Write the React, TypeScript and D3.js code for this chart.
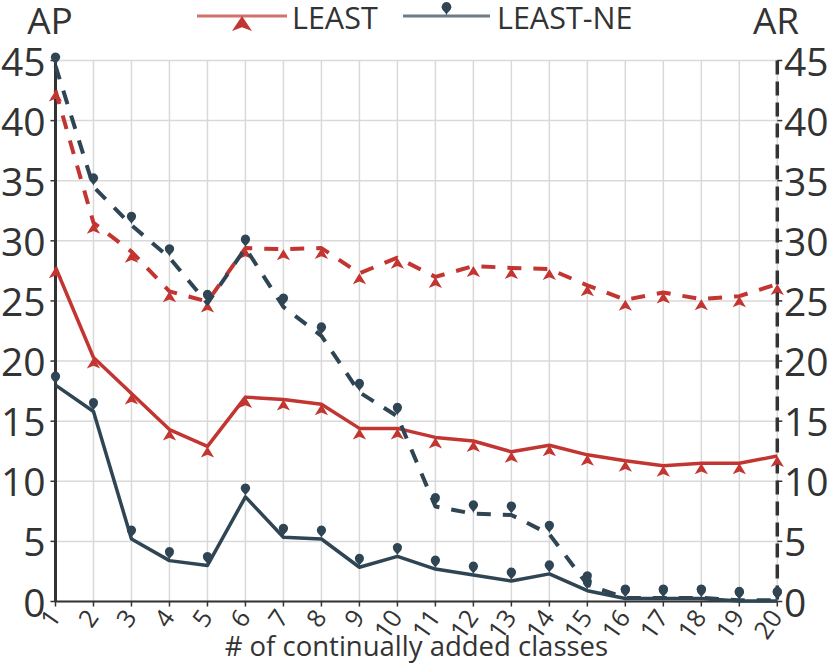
import React from 'react';
import * as d3 from 'd3';

// ---- data ----
const categories = ['1', '2', '3', '4', '5', '6', '7', '8', '9', '10', '11', '12', '13', '14', '15', '16', '17', '18', '19', '20'];
const leastAP = [27.8, 20.3, 17.3, 14.3, 12.9, 17.0, 16.8, 16.4, 14.4, 14.4, 13.65, 13.35, 12.45, 13.0, 12.2, 11.7, 11.3, 11.5, 11.5, 12.1];
const leastAR = [42.5, 31.5, 29.1, 25.8, 24.95, 29.4, 29.3, 29.4, 27.3, 28.6, 27.0, 27.9, 27.75, 27.65, 26.3, 25.1, 25.7, 25.15, 25.4, 26.4];
const leastNeAP = [18.0, 15.8, 5.2, 3.4, 3.0, 8.7, 5.35, 5.2, 2.85, 3.75, 2.7, 2.2, 1.7, 2.3, 0.9, 0.25, 0.25, 0.25, 0.05, 0.05];
const leastNeAR = [44.55, 34.5, 31.3, 28.6, 24.8, 29.4, 24.5, 22.1, 17.4, 15.4, 7.9, 7.3, 7.2, 5.6, 1.4, 0.3, 0.3, 0.3, 0.1, 0.1];
const yTicks = [0, 5, 10, 15, 20, 25, 30, 35, 40, 45];
const seriesNames = ['LEAST', 'LEAST-NE'];
const seriesColors = ['#c23531', '#2f4554'];
const leftAxisName = 'AP';
const rightAxisName = 'AR';
const xAxisName = '# of continually added classes';

const W = 830;
const H = 666;
const FONT = "'Open Sans', 'Noto Sans', sans-serif";
const TEXT = '#333';

const x = d3.scalePoint<string>().domain(categories).range([55.5, 777.3]);
const y = d3.scaleLinear().domain([0, 45]).range([601.5, 60.5]);

function arrowPath(w: number, h: number): string {
  const dx = (w / 3) * 2;
  const p = d3.path();
  p.moveTo(0, 0);
  p.lineTo(dx, h);
  p.lineTo(0, (h / 4) * 3);
  p.lineTo(-dx, h);
  p.closePath();
  return p.toString();
}

function pinPath(w0: number, h0: number): string {
  const w = (w0 / 5) * 3;
  const h = Math.max(w, h0);
  const r = w / 2;
  const dy = (r * r) / (h - r);
  const cy = -h + r + dy;
  const angle = Math.asin(dy / r);
  const dx = Math.cos(angle) * r;
  const tanX = Math.sin(angle);
  const tanY = Math.cos(angle);
  const cpLen = r * 0.6;
  const cpLen2 = r * 0.7;
  const p = d3.path();
  p.moveTo(-dx, cy + dy);
  p.arc(0, cy, r, Math.PI - angle, Math.PI * 2 + angle);
  p.bezierCurveTo(dx - tanX * cpLen, cy + dy + tanY * cpLen, 0, -cpLen2, 0, 0);
  p.bezierCurveTo(0, -cpLen2, -dx + tanX * cpLen, cy + dy + tanY * cpLen, -dx, cy + dy);
  p.closePath();
  return p.toString();
}

const lineGen = d3
  .line<number>()
  .x((_, i) => x(categories[i]) as number)
  .y((d) => y(d));

const chartArrow = arrowPath(10, 11);
const chartPin = pinPath(15.5, 15.5);
const legendArrow = arrowPath(15, 15);
const legendPin = pinPath(16, 16);

type Series = { values: number[]; color: string; dashed: boolean; marker: string };

const seriesList: Series[] = [
  { values: leastAP, color: seriesColors[0], dashed: false, marker: chartArrow },
  { values: leastAR, color: seriesColors[0], dashed: true, marker: chartArrow },
  { values: leastNeAP, color: seriesColors[1], dashed: false, marker: chartPin },
  { values: leastNeAR, color: seriesColors[1], dashed: true, marker: chartPin },
];

export default function App() {
  const x0 = x(categories[0]) as number;
  const x1 = x(categories[categories.length - 1]) as number;
  const yTop = y(45);
  const yBot = y(0);
  return (
    <svg
      width={W}
      height={H}
      viewBox={`0 0 ${W} ${H}`}
      style={{ position: 'absolute', left: 0, top: 0, background: '#fff' }}
      fontFamily={FONT}
    >
      {/* grid */}
      <g stroke="#d9d9d9" strokeWidth={1.5}>
        {yTicks.map((t) => (
          <line key={'h' + t} x1={x0} x2={x1} y1={y(t)} y2={y(t)} />
        ))}
        {categories.map((c) => (
          <line key={'v' + c} x1={x(c)} x2={x(c)} y1={yTop} y2={yBot} />
        ))}
      </g>

      {/* x axis */}
      <line x1={x0} x2={x1} y1={yBot} y2={yBot} stroke={TEXT} strokeWidth={2} />
      {categories.map((c) => (
        <line key={'xt' + c} x1={x(c)} x2={x(c)} y1={yBot} y2={yBot + 5} stroke={TEXT} strokeWidth={1.5} />
      ))}
      {categories.map((c) => (
        <text
          key={'xl' + c}
          transform={`translate(${(x(c) as number) - 1},${yBot + 11}) rotate(-55)`}
          textAnchor="end"
          dy="0.35em"
          fontSize={25}
          fill={TEXT}
        >
          {c}
        </text>
      ))}
      <text x={(x0 + x1) / 2} y={656} textAnchor="middle" fontSize={27.5} fill={TEXT}>
        {xAxisName}
      </text>

      {/* left axis */}
      <line x1={x0} x2={x0} y1={yTop} y2={yBot} stroke={TEXT} strokeWidth={3} />
      {yTicks.map((t) => (
        <g key={'ly' + t}>
          <line x1={x0 - 5} x2={x0} y1={y(t)} y2={y(t)} stroke={TEXT} strokeWidth={1.5} />
          <text x={45.5} y={y(t) + 15} textAnchor="end" fontSize={39} fill={TEXT}>
            {t}
          </text>
        </g>
      ))}
      <text x={50} y={34} textAnchor="middle" fontSize={37} fill={TEXT}>
        {leftAxisName}
      </text>

      {/* right axis */}
      <line x1={x1} x2={x1} y1={yTop} y2={yBot} stroke={TEXT} strokeWidth={3.5} strokeDasharray="14,7" />
      {yTicks.map((t) => (
        <g key={'ry' + t}>
          <line x1={x1} x2={x1 + 5} y1={y(t)} y2={y(t)} stroke={TEXT} strokeWidth={1.5} />
          <text x={784} y={y(t) + 15} textAnchor="start" fontSize={39} fill={TEXT}>
            {t}
          </text>
        </g>
      ))}
      <text x={776} y={34} textAnchor="middle" fontSize={37} fill={TEXT}>
        {rightAxisName}
      </text>

      {/* series */}
      {seriesList.map((s, si) => (
        <g key={'s' + si}>
          <path
            d={lineGen(s.values) || ''}
            fill="none"
            stroke={s.color}
            strokeWidth={s.dashed ? 4 : 3.5}
            strokeDasharray={s.dashed ? '14,12' : undefined}
            strokeLinejoin="round"
          />
          {s.values.map((v, i) => (
            <path
              key={'m' + i}
              d={s.marker}
              transform={`translate(${x(categories[i])},${y(v)})`}
              fill={s.color}
            />
          ))}
        </g>
      ))}

      {/* legend */}
      <g>
        <line x1={197} x2={287} y1={16} y2={16} stroke={seriesColors[0]} strokeWidth={3} opacity={0.7} />
        <path d={legendArrow} transform="translate(242,16)" fill={seriesColors[0]} />
        <text x={292} y={29} fontSize={30.5} fill={TEXT}>
          {seriesNames[0]}
        </text>
        <line x1={403} x2={490} y1={16} y2={16} stroke={seriesColors[1]} strokeWidth={3} opacity={0.7} />
        <path d={legendPin} transform="translate(446.5,16)" fill={seriesColors[1]} />
        <text x={497} y={29} fontSize={30.5} fill={TEXT}>
          {seriesNames[1]}
        </text>
      </g>
    </svg>
  );
}
